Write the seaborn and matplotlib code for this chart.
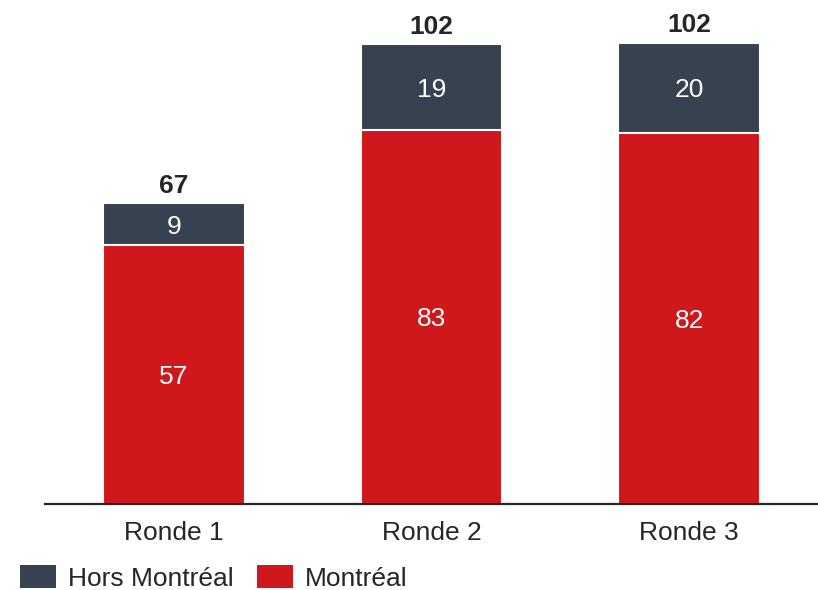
import matplotlib
matplotlib.use("Agg")
import matplotlib.pyplot as plt
from matplotlib.patches import Patch
import seaborn as sns
import pandas as pd

categories = ["Ronde 1", "Ronde 2", "Ronde 3"]
montreal = [57.4, 83.0, 82.4]
hors_montreal = [9.3, 19.0, 19.9]

RED = "#CF181C"
DARK = "#37414F"
TXT = "#262626"
FS = 19

sns.set_theme(style="white")
plt.rcParams["font.family"] = ["Liberation Sans", "DejaVu Sans"]

df = pd.DataFrame({
    "cat": categories,
    "montreal": montreal,
    "hors": hors_montreal,
})
df["stack"] = df["montreal"] + df["hors"]

fig = plt.figure(figsize=(8.18, 5.90), dpi=100)
ax = fig.add_axes([45/818, 1 - 504/590, 1 - 45/818, 504/590])

sns.barplot(data=df, x="cat", y="stack", color=DARK, width=0.55,
            edgecolor="white", linewidth=1.5, saturation=1, ax=ax)
sns.barplot(data=df, x="cat", y="montreal", color=RED, width=0.55,
            edgecolor="white", linewidth=1.5, saturation=1, ax=ax)

ax.set_xlim(-0.5, 2.5)
ax.set_ylim(0, 111.8)
ax.set_xlabel("")
ax.set_ylabel("")
ax.set_yticks([])
for s in ["top", "right", "left"]:
    ax.spines[s].set_visible(False)
ax.spines["bottom"].set_color(TXT)
ax.spines["bottom"].set_linewidth(1.6)
ax.tick_params(axis="x", length=0, pad=12, labelsize=FS, labelcolor=TXT)

for i in range(len(categories)):
    m = montreal[i]
    h = hors_montreal[i]
    ax.text(i, m / 2, f"{round(m)}", ha="center", va="center_baseline",
            color="white", fontsize=FS)
    ax.text(i, m + h / 2, f"{round(h)}", ha="center", va="center_baseline",
            color="white", fontsize=FS)
    ax.text(i, m + h + 2.3, f"{round(m + h)}", ha="center", va="baseline",
            color=TXT, fontsize=FS, fontweight="bold")

handles = [Patch(facecolor=DARK, edgecolor="none", label="Hors Montréal"),
           Patch(facecolor=RED, edgecolor="none", label="Montréal")]
fig.legend(handles=handles, loc="center left", bbox_to_anchor=(20/818, 1 - 578/590),
           ncol=2, frameon=False, fontsize=FS, handlelength=1.36, handleheight=0.95,
           handletextpad=0.45, columnspacing=0.9, labelcolor=TXT,
           borderaxespad=0, borderpad=0)

fig.savefig("out.png", dpi=100)
